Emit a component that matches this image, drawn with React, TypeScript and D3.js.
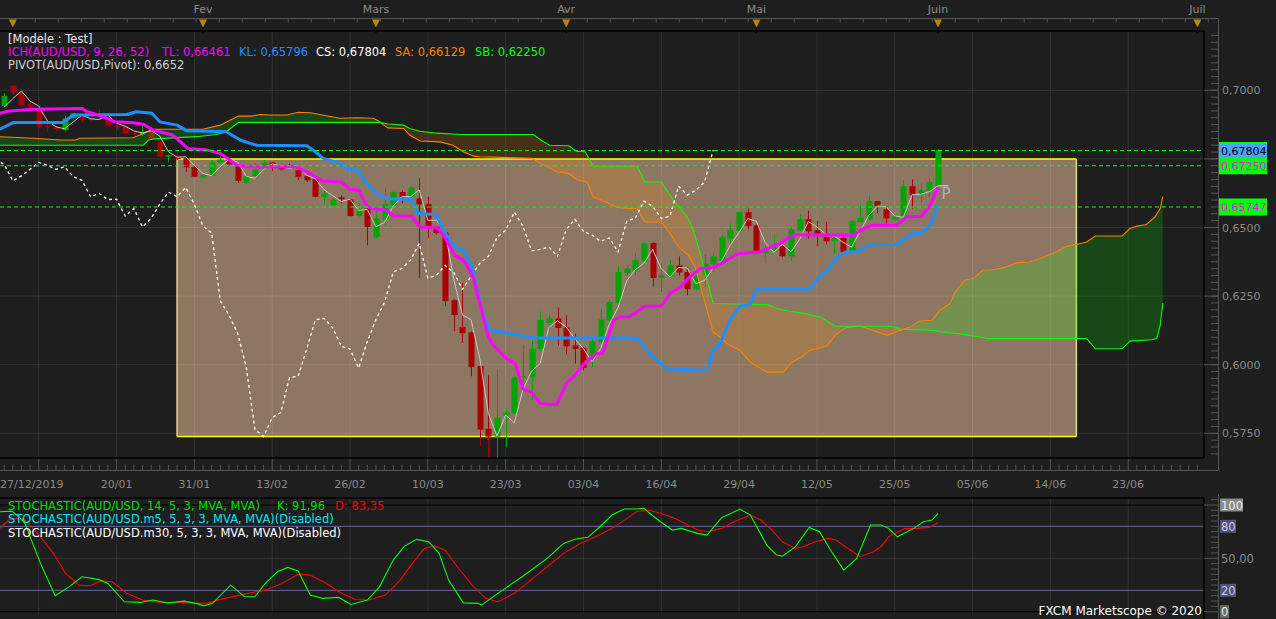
import React from "react";
import * as d3 from "d3";

// ---------- DATA ----------
const opens = [0.6925,0.6944,0.7017,0.6993,0.6950,0.6934,0.6870,0.6865,0.6855,0.6898,0.6903,0.6901,0.6914,0.6898,0.6870,0.6871,0.6847,0.6840,0.6855,0.6812,0.6758,0.6764,0.6752,0.6721,0.6682,0.6688,0.6737,0.6746,0.6724,0.6663,0.6687,0.6715,0.6737,0.6721,0.6727,0.6709,0.6687,0.6679,0.6612,0.6581,0.6610,0.6602,0.6542,0.6569,0.6465,0.6530,0.6581,0.6629,0.6612,0.6606,0.6585,0.6502,0.6482,0.6235,0.6137,0.6118,0.5995,0.5766,0.5738,0.5815,0.5823,0.5955,0.5955,0.6057,0.6152,0.6168,0.6135,0.6070,0.6061,0.6022,0.6082,0.6162,0.6225,0.6334,0.6344,0.6378,0.6443,0.6317,0.6322,0.6362,0.6338,0.6275,0.6326,0.6366,0.6378,0.6460,0.6487,0.6556,0.6508,0.6407,0.6417,0.6432,0.6395,0.6490,0.6530,0.6490,0.6466,0.6451,0.6462,0.6413,0.6520,0.6530,0.6596,0.6566,0.6529,0.6538,0.6651,0.6620,0.6634,0.6652];
const highs = [0.6955,0.6990,0.7018,0.6997,0.6955,0.6937,0.6885,0.6870,0.6906,0.6917,0.6906,0.6905,0.6932,0.6902,0.6885,0.6873,0.6852,0.6876,0.6858,0.6815,0.6766,0.6776,0.6754,0.6723,0.6695,0.6746,0.6761,0.6759,0.6726,0.6690,0.6734,0.6746,0.6739,0.6724,0.6732,0.6712,0.6693,0.6690,0.6636,0.6605,0.6618,0.6605,0.6588,0.6571,0.6563,0.6642,0.6632,0.6636,0.6654,0.6679,0.6612,0.6505,0.6487,0.6240,0.6298,0.6121,0.5998,0.5961,0.5983,0.5839,0.5958,0.6070,0.6088,0.6194,0.6180,0.6208,0.6180,0.6113,0.6065,0.6103,0.6204,0.6237,0.6359,0.6362,0.6405,0.6445,0.6446,0.6369,0.6381,0.6395,0.6356,0.6330,0.6402,0.6405,0.6472,0.6515,0.6558,0.6569,0.6511,0.6435,0.6472,0.6447,0.6500,0.6548,0.6561,0.6524,0.6520,0.6472,0.6465,0.6526,0.6581,0.6614,0.6597,0.6578,0.6546,0.6673,0.6675,0.6663,0.6679,0.6785];
const lows = [0.6915,0.6939,0.6983,0.6939,0.6934,0.6861,0.6849,0.6851,0.6851,0.6895,0.6885,0.6885,0.6891,0.6868,0.6857,0.6840,0.6837,0.6833,0.6820,0.6755,0.6739,0.6747,0.6703,0.6683,0.6680,0.6685,0.6733,0.6728,0.6663,0.6660,0.6685,0.6713,0.6706,0.6708,0.6718,0.6673,0.6666,0.6610,0.6588,0.6578,0.6588,0.6540,0.6540,0.6435,0.6460,0.6508,0.6578,0.6588,0.6610,0.6316,0.6463,0.6475,0.6214,0.6123,0.6079,0.5958,0.5703,0.5520,0.5660,0.5699,0.5820,0.5900,0.5870,0.6050,0.6131,0.6070,0.6038,0.6004,0.5979,0.5991,0.6078,0.6158,0.6220,0.6326,0.6326,0.6375,0.6286,0.6265,0.6318,0.6326,0.6253,0.6270,0.6283,0.6338,0.6375,0.6442,0.6484,0.6493,0.6412,0.6374,0.6415,0.6392,0.6378,0.6487,0.6460,0.6432,0.6439,0.6405,0.6408,0.6410,0.6518,0.6526,0.6553,0.6515,0.6525,0.6535,0.6569,0.6593,0.6612,0.6650];
const closes = [0.6944,0.6980,0.6991,0.6944,0.6940,0.6867,0.6866,0.6858,0.6898,0.6916,0.6897,0.6891,0.6906,0.6871,0.6864,0.6843,0.6843,0.6849,0.6822,0.6758,0.6764,0.6749,0.6719,0.6685,0.6691,0.6737,0.6748,0.6730,0.6670,0.6688,0.6712,0.6737,0.6727,0.6712,0.6721,0.6685,0.6672,0.6612,0.6624,0.6602,0.6603,0.6542,0.6569,0.6502,0.6533,0.6585,0.6629,0.6612,0.6646,0.6584,0.6505,0.6480,0.6232,0.6181,0.6115,0.5991,0.5764,0.5738,0.5807,0.5826,0.5953,0.5958,0.6058,0.6164,0.6169,0.6134,0.6067,0.6057,0.5988,0.6085,0.6165,0.6228,0.6338,0.6351,0.6381,0.6442,0.6316,0.6326,0.6362,0.6336,0.6275,0.6322,0.6369,0.6395,0.6464,0.6490,0.6556,0.6505,0.6415,0.6420,0.6429,0.6395,0.6493,0.6530,0.6486,0.6472,0.6450,0.6462,0.6411,0.6523,0.6535,0.6596,0.6578,0.6533,0.6541,0.6651,0.6618,0.6636,0.6666,0.6782];

// Ichimoku lines: [bar index, price]
const tenkan = [[0.5,0.6916],[1.4,0.6924],[4.3,0.6931],[10,0.6934],[10.6,0.6922],[11.3,0.6916],[13.2,0.6894],[13.8,0.6885],[15.9,0.6882],[17.1,0.6876],[18.2,0.6855],[20.5,0.6837],[21.6,0.6807],[22.2,0.6788],[24.5,0.6782],[26,0.6770],[27.1,0.6746],[27.9,0.6727],[29.4,0.6721],[34.8,0.6721],[36,0.6703],[37,0.6685],[37.7,0.6670],[40,0.6666],[41,0.6639],[42,0.6636],[42.9,0.6581],[43.5,0.6569],[45.2,0.6563],[46,0.6542],[48.1,0.6542],[49.1,0.6502],[51,0.6500],[51.8,0.6472],[52.6,0.6429],[53.1,0.6399],[54.1,0.6381],[54.5,0.6362],[55.3,0.6314],[56,0.6223],[57,0.6101],[57.6,0.6070],[59.1,0.6022],[60.1,0.6004],[61,0.5912],[62,0.5900],[63,0.5858],[64.9,0.5855],[66.1,0.5936],[67,0.5961],[68.2,0.6009],[69.5,0.6040],[70.2,0.6042],[71.5,0.6162],[72.2,0.6174],[73.4,0.6176],[75.1,0.6213],[77,0.6213],[78,0.6259],[79.2,0.6283],[80.3,0.6320],[81.5,0.6350],[83,0.6354],[84.2,0.6374],[85.9,0.6405],[88.4,0.6411],[89.2,0.6423],[90.7,0.6442],[91.9,0.6466],[92.7,0.6474],[99.2,0.6472],[100.4,0.6496],[101.3,0.6508],[104.2,0.6508],[105.4,0.6539],[107.1,0.6541],[108.1,0.6581],[109,0.6646]];
const kijun = [[0.5,0.6858],[2.1,0.6883],[7.8,0.6883],[9,0.6910],[15.2,0.6912],[16.3,0.6922],[18.1,0.6916],[19,0.6885],[21,0.6873],[22.1,0.6853],[26.7,0.6849],[28.3,0.6819],[29.4,0.6807],[30.2,0.6800],[36,0.6798],[37,0.6776],[37.9,0.6752],[39.8,0.6734],[40.7,0.6713],[42,0.6708],[42.9,0.6661],[44.1,0.6624],[45.2,0.6606],[48.1,0.6602],[48.9,0.6551],[51,0.6547],[51.8,0.6490],[53.1,0.6429],[54.1,0.6417],[55.1,0.6356],[56,0.6235],[56.2,0.6198],[57.2,0.6125],[58.7,0.6119],[61.4,0.6103],[62.2,0.6097],[74.2,0.6097],[75.7,0.6040],[77.6,0.5985],[82.3,0.5979],[83,0.6052],[83.8,0.6077],[84.9,0.6162],[86.1,0.6213],[87.3,0.6220],[88,0.6276],[94.2,0.6276],[95.2,0.6320],[96.3,0.6347],[97.3,0.6390],[98.3,0.6411],[99.6,0.6411],[101.3,0.6438],[104.2,0.6438],[106.1,0.6478],[107.1,0.6480],[108.1,0.6508],[109,0.6580]];
const senkouA = [[0.5,0.6831],[2.5,0.6828],[4.4,0.6825],[7.5,0.6819],[9.2,0.6819],[9.8,0.6825],[15.9,0.6827],[16.7,0.6837],[17.5,0.6849],[18.1,0.6858],[24,0.6858],[26,0.6873],[27.1,0.6891],[28.1,0.6906],[29.6,0.6906],[30.6,0.6912],[31.6,0.6910],[33.7,0.6910],[35,0.6920],[36.4,0.6918],[37.5,0.6912],[39.8,0.6898],[41.8,0.6900],[43.7,0.6898],[44.3,0.6888],[44.9,0.6873],[45.4,0.6863],[47.2,0.6861],[47.9,0.6837],[49.1,0.6815],[51.4,0.6812],[52.9,0.6800],[54.1,0.6776],[55.3,0.6760],[56,0.6758],[62,0.6752],[62.8,0.6739],[63.8,0.6721],[64.9,0.6703],[66.3,0.6697],[67.2,0.6675],[68.4,0.6666],[69.1,0.6612],[70.3,0.6597],[71.8,0.6575],[73,0.6569],[74.2,0.6569],[75.1,0.6520],[77,0.6520],[78,0.6478],[79,0.6429],[80.1,0.6399],[80.9,0.6356],[81.5,0.6289],[82.3,0.6198],[83,0.6119],[83.8,0.6101],[84.6,0.6077],[86.1,0.6052],[87.3,0.6009],[89.2,0.5973],[91.1,0.5973],[92.1,0.6009],[93.2,0.6028],[94.2,0.6052],[96.1,0.6067],[97.1,0.6107],[98.3,0.6135],[100,0.6141],[101.1,0.6129],[103.1,0.6107],[104.4,0.6123],[105.8,0.6137],[106.9,0.6159],[108.3,0.6162],[109.2,0.6198],[110.4,0.6223],[111,0.6265],[112.1,0.6308],[113.1,0.6314],[114.2,0.6344],[115.6,0.6347],[116.9,0.6356],[118.1,0.6372],[119.6,0.6374],[120.8,0.6387],[122.3,0.6405],[123.9,0.6432],[125,0.6438],[126.2,0.6447],[127.2,0.6469],[130.3,0.6469],[131.2,0.6496],[132,0.6505],[133.1,0.6511],[134.1,0.6539],[134.7,0.6569],[135,0.6613]];
const senkouB = [[0.5,0.6800],[17.1,0.6800],[17.7,0.6819],[18.3,0.6823],[23.3,0.6831],[25.6,0.6839],[26.7,0.6849],[28.1,0.6883],[44.5,0.6883],[45.4,0.6877],[47.2,0.6873],[47.9,0.6861],[49.1,0.6851],[50.6,0.6845],[53.7,0.6839],[62.2,0.6839],[63.2,0.6816],[64.1,0.6800],[66.3,0.6798],[67.2,0.6778],[68.2,0.6776],[69.1,0.6724],[74.2,0.6724],[75.1,0.6666],[77,0.6666],[78.4,0.6600],[80.1,0.6533],[80.7,0.6490],[81.5,0.6405],[82.3,0.6308],[83,0.6223],[89.2,0.6219],[90.5,0.6204],[91.9,0.6194],[93.4,0.6188],[95.4,0.6174],[97.1,0.6140],[103.5,0.6140],[104.8,0.6129],[108.5,0.6125],[110,0.6117],[111.5,0.6113],[112.7,0.6107],[113.9,0.6101],[114.8,0.6095],[126.2,0.6095],[127.2,0.6058],[130.3,0.6058],[131.2,0.6086],[133.7,0.6091],[134.3,0.6095],[134.7,0.6143],[135,0.6225]];

// Stochastic: [bar index, value]
const stochK = [[0.5,93.7],[1.9,94.3],[2.9,87.5],[3.4,82.8],[5.2,45.3],[6.9,14.9],[8.5,23.3],[10,32.7],[11.9,30.3],[13,26.5],[14.9,9.3],[16.8,8.7],[18.2,10.9],[19.9,8.3],[21.8,9.9],[23.2,7.8],[24.1,5.5],[25.1,7.8],[27.2,24.9],[28.8,14],[30,14],[31.2,26.5],[32.6,37.4],[33.8,41.5],[35,38.1],[36.4,15.6],[37.8,12.5],[39.7,13.4],[41.1,6.8],[43,10.9],[44.4,23.3],[46,48.4],[47.3,61.5],[48.7,67.8],[50.1,65.5],[51.3,54.7],[52.4,29.6],[54.1,8.3],[55.8,7.8],[56.2,6.2],[58.1,17.2],[60.9,32.7],[63.8,50],[65.7,64],[67.1,68.1],[68.5,69.7],[69.9,79.6],[71.3,90.6],[72.7,96.2],[74.1,96.2],[75,96.8],[75.9,90.6],[76.9,84.3],[78.3,76.5],[79.3,78.1],[81.2,73.4],[82.3,71.8],[84,88.4],[84.9,91.5],[86.1,96.2],[87.3,90.6],[89.2,62.4],[90.3,53.1],[91,52.1],[92.5,60.8],[94.1,79],[95.3,74.9],[96.7,56.2],[98.1,39],[99.6,50],[101.2,81.2],[102.4,81.2],[103.3,78.1],[104.3,70.2],[106.2,78.1],[107.3,84.3],[108.3,85.9],[109,92]];
const stochD = [[0.5,78.1],[1.5,85.9],[2.4,87.5],[3.4,86.5],[5.2,70.2],[6.7,54.7],[8.1,35.9],[9.7,24.9],[10.9,24.3],[12.3,29],[13.5,28],[15.2,17.2],[17,10.9],[19.4,8.3],[21.3,8.7],[23.2,7.8],[24.6,8.3],[26.5,12.5],[28.8,16.5],[31.2,20.2],[33.1,26.5],[35,35],[36.4,34.3],[38.3,26.5],[39.7,18.7],[41.6,11.5],[43.2,10.9],[45.1,15.6],[46.8,29.6],[48.2,45.3],[49.6,59.3],[50.8,61.5],[52,57.7],[53.4,42.1],[55.3,23.3],[56.7,12.5],[58.1,9.3],[60,17.2],[61.9,29.6],[63.8,42.1],[65.7,54.7],[67.6,64],[69.4,70.2],[71.3,78.1],[73.2,88.4],[74.1,93.7],[75.5,95.3],[76.9,92.2],[78.3,88.4],[79.7,82.8],[81.2,76.5],[82.3,74.9],[84,78.1],[85.4,84.3],[87.3,90.6],[88.5,85.9],[89.6,78.1],[91,65.5],[92.5,59.3],[93.4,60.8],[94.8,65.5],[96.3,68.7],[97.2,67.1],[98.6,59.3],[100,51.5],[101.5,56.2],[102.4,60.8],[103.3,70.2],[105.2,78.1],[106.6,78.1],[108,79],[109,83.4]];

const bottomLabels = ["27/12/2019","20/01","31/01","13/02","26/02","10/03","23/03","03/04","16/04","29/04","12/05","25/05","05/06","14/06","23/06"];
const bottomLabelStartBar = 5;
const bottomLabelStepBars = 9;
const monthNames = ["", "Fev", "Mars", "Avr", "Mai", "Juin", "Juil"];
const monthStartBars = [2, 24, 44, 66, 88, 109, 139];
const priceGrid = [0.575, 0.6, 0.625, 0.65, 0.675, 0.7];
const priceAxisLabels = [0.575, 0.6, 0.625, 0.65, 0.7];
const markerPrices = [0.67804, 0.6725, 0.65747];
const markerTexts = ["0,67804", "0,67250", "0,65747"];
const boxPrices = [0.5738, 0.6750];
const boxBars = [21, 125];
const pivotValue = 0.6652;
const ichLegend = ["ICH(AUD/USD, 9, 26, 52)", "TL: 0,66461", "KL: 0,65796", "CS: 0,67804", "SA: 0,66129", "SB: 0,62250"];
const stochLegend = ["STOCHASTIC(AUD/USD, 14, 5, 3, MVA, MVA)", "K: 91,96", "D: 83,35"];
const stochLegend2 = "STOCHASTIC(AUD/USD.m5, 5, 3, 3, MVA, MVA)(Disabled)";
const stochLegend3 = "STOCHASTIC(AUD/USD.m30, 5, 3, 3, MVA, MVA)(Disabled)";
const stochLevels = [100, 80, 50, 20, 0];
const stochLevelTexts = ["100", "80", "50,00", "20", "0"];

const FONT = "'DejaVu Sans', Verdana, sans-serif";

export default function App() {
  const W = 1276, H = 619;
  const PR = 1204, PT = 31, PB = 458;
  const AX = 1218;
  const SPT = 498, SPB = 614;

  const x = d3.scaleLinear().domain([0, 139]).range([-4.5, 1197.4]);
  const y = d3.scaleLinear().domain([0.575, 0.7]).range([433.3, 90.3]);
  const ys = d3.scaleLinear().domain([0, 100]).range([611.7, 505]);
  const pLine = d3.line<any>().x((d: any) => x(d[0])).y((d: any) => y(d[1]));
  const sLine = d3.line<any>().x((d: any) => x(d[0])).y((d: any) => ys(d[1]));

  const bars = d3.range(closes.length);
  const chikou = closes.slice(26).map((c, k) => [k, c]);
  const pivots = bars.slice(1).map((i) => [i, (highs[i - 1] + lows[i - 1] + closes[i - 1]) / 3]);
  const pivotExt = [[109, pivotValue], [110.2, pivotValue]];

  const saP = senkouA.map((d) => [x(d[0]), y(d[1])]);
  const sbP = senkouB.map((d) => [x(d[0]), y(d[1])]);
  const pts = (a: number[][]) => a.map((p) => p[0].toFixed(2) + "," + p[1].toFixed(2)).join("L");
  const cloudPath = "M" + pts(saP) + "L" + pts([...sbP].reverse()) + "Z";
  const sbF = sbP[0][0], sbL = sbP[sbP.length - 1][0];
  const aboveClip = "M" + pts(sbP) + `L${sbL},-2000L${sbF},-2000Z`;
  const belowClip = "M" + pts(sbP) + `L${sbL},3000L${sbF},3000Z`;

  const gridBars = bottomLabels.map((_, k) => bottomLabelStartBar + k * bottomLabelStepBars);

  const bx0 = x(boxBars[0]), bx1 = x(boxBars[1]);
  const by0 = y(boxPrices[1]), by1 = y(boxPrices[0]);

  const gridCol = "rgba(255,255,255,0.085)";
  const up = "#00a400", dn = "#aa0000";

  const priceMinor = d3.range(0, 80).map((k) => 0.56 + k * 0.0025).filter((v) => y(v) > PT && y(v) < PB);
  const stochMinor = d3.range(-1, 23).map((k) => k * 5).filter((v) => ys(v) > SPT && ys(v) < SPB);

  const topTicks = d3.range(0, 60).map((k) => 12.2 + k * 23).filter((v) => v < AX);

  const markerFill = ["#4aa3ff", "#00ff00", "#00ff00"];
  const markerText = ["#000000", "#ff00ff", "#ff00ff"];

  const stochBox = (t: string) => {
    if (t === "100") return { bg: "#8a8a8a", fg: "#eeeeee" };
    if (t === "80" || t === "20") return { bg: "#52527e", fg: "#c8c8e6" };
    if (t === "0") return { bg: "#6a6a6a", fg: "#e6e6e6" };
    return null;
  };

  return (
    <svg width={W} height={H} style={{ position: "absolute", left: 0, top: 0, background: "#1e1e1e", fontFamily: FONT }}>
      <defs>
        <clipPath id="plotClip"><rect x={0} y={PT} width={PR} height={PB - PT} /></clipPath>
        <clipPath id="stochClip"><rect x={0} y={SPT} width={PR} height={SPB - SPT} /></clipPath>
        <clipPath id="aboveB"><path d={aboveClip} /></clipPath>
        <clipPath id="belowB"><path d={belowClip} /></clipPath>
      </defs>
      <rect x={0} y={0} width={W} height={H} fill="#1e1e1e" />

      {/* ===== MAIN PLOT ===== */}
      <g clipPath="url(#plotClip)">
        {/* annotation rectangle */}
        <rect x={bx0} y={by0} width={bx1 - bx0} height={by1 - by0} fill="#8e7762" />
        {/* grid */}
        {gridBars.map((b) => (
          <line key={"vg" + b} x1={x(b)} x2={x(b)} y1={PT} y2={PB} stroke={gridCol} strokeWidth={1} />
        ))}
        {priceGrid.map((v) => (
          <line key={"hg" + v} x1={0} x2={PR} y1={y(v)} y2={y(v)} stroke={gridCol} strokeWidth={1} />
        ))}
        <line x1={bx0} x2={bx1} y1={by0} y2={by0} stroke="#ffff00" strokeWidth={1.5} />
        <line x1={bx0} x2={bx1} y1={by1} y2={by1} stroke="#ffff00" strokeWidth={1.5} />
        <line x1={bx0} x2={bx0} y1={by0} y2={by1} stroke="#e6d68a" strokeWidth={1.5} />
        <line x1={bx1} x2={bx1} y1={by0} y2={by1} stroke="#e6d68a" strokeWidth={1.5} />

        {/* candles */}
        {bars.map((i) => {
          const o = opens[i], c = closes[i];
          const col = c >= o ? up : dn;
          const top = y(Math.max(o, c)), bot = y(Math.min(o, c));
          const cx = Math.round(x(i)) + 0.5;
          return (
            <g key={"c" + i}>
              <line x1={cx} x2={cx} y1={y(highs[i])} y2={y(lows[i])} stroke={col} strokeWidth={1} />
              <rect x={cx - 3} y={top} width={6} height={Math.max(1.2, bot - top)} fill={col} />
            </g>
          );
        })}

        {/* cloud */}
        <path d={cloudPath} fill="rgba(0,255,0,0.19)" clipPath="url(#aboveB)" />
        <path d={cloudPath} fill="rgba(255,140,0,0.18)" clipPath="url(#belowB)" />
        <path d={pLine(senkouA as any) || ""} fill="none" stroke="#ff8000" strokeWidth={1.1} />
        <path d={pLine(senkouB as any) || ""} fill="none" stroke="#00ff00" strokeWidth={1.1} />

        {/* chikou */}
        <path d={pLine(chikou as any) || ""} fill="none" stroke="#ffffff" strokeWidth={1.3} strokeDasharray="3,3" />

        {/* pivot */}
        <path d={pLine(pivots as any) || ""} fill="none" stroke="#c8c8c8" strokeWidth={1} />
        <path d={pLine(pivotExt as any) || ""} fill="none" stroke="#c8c8c8" strokeWidth={1.2} />

        {/* kijun, tenkan */}
        <path d={pLine(kijun as any) || ""} fill="none" stroke="#1e8fff" strokeWidth={3} strokeLinejoin="round" />
        <path d={pLine(tenkan as any) || ""} fill="none" stroke="#ff00ff" strokeWidth={3} strokeLinejoin="round" />

        {/* price marker lines */}
        {markerPrices.map((v) => (
          <line key={"ml" + v} x1={0} x2={PR} y1={y(v)} y2={y(v)} stroke="#00ff00" strokeWidth={1} strokeDasharray="4,3" />
        ))}

        <text x={x(109.4)} y={y(pivotValue) + 13} fill="#b0b0b0" fontSize={15} fontFamily={FONT}>P</text>
      </g>

      {/* legend */}
      <text x={8} y={43} fill="#e8e8e8" fontSize={11.5}>[Modele : Test]</text>
      <text x={8} y={56} fill="#ff00ff" fontSize={11.5}>{ichLegend[0]}</text>
      <text x={162} y={56} fill="#ff00ff" fontSize={11.5}>{ichLegend[1]}</text>
      <text x={239} y={56} fill="#1e8fff" fontSize={11.5}>{ichLegend[2]}</text>
      <text x={316} y={56} fill="#ffffff" fontSize={11.5}>{ichLegend[3]}</text>
      <text x={395} y={56} fill="#ff8000" fontSize={11.5}>{ichLegend[4]}</text>
      <text x={475} y={56} fill="#00ff00" fontSize={11.5}>{ichLegend[5]}</text>
      <text x={8} y={69} fill="#cfcfcf" fontSize={11.5}>PIVOT(AUD/USD,Pivot): 0,6652</text>

      {/* main frame */}
      <line x1={0} x2={AX} y1={18.5} y2={18.5} stroke="#555" strokeWidth={1} />
      <line x1={AX + 0.5} x2={AX + 0.5} y1={18.5} y2={470.5} stroke="#555" strokeWidth={1} />
      <line x1={0} x2={AX} y1={470.5} y2={470.5} stroke="#555" strokeWidth={1} />
      <line x1={0} x2={PR} y1={PT} y2={PT} stroke="#000" strokeWidth={1.5} />
      <line x1={0} x2={PR} y1={PB} y2={PB} stroke="#000" strokeWidth={1.5} />
      <line x1={PR} x2={PR} y1={PT} y2={PB} stroke="#000" strokeWidth={1.5} />

      {/* top axis */}
      {topTicks.map((t) => (
        <line key={"tt" + t} x1={t} x2={t} y1={18.5} y2={22} stroke="#555" strokeWidth={1} />
      ))}
      {monthStartBars.map((b, k) => (
        <g key={"m" + b}>
          <text x={x(b)} y={13} fill="#8a8a8a" fontSize={11} textAnchor="middle">{monthNames[k]}</text>
          <path d={`M${x(b) - 4},${19.5}L${x(b) + 4},${19.5}L${x(b)},${27.5}Z`} fill="#b8860b" />
          <line x1={x(b)} x2={x(b)} y1={27} y2={33} stroke="#000" strokeWidth={1} />
        </g>
      ))}

      {/* right price axis */}
      {priceMinor.map((v) => (
        <line key={"pm" + v} x1={AX - 7} x2={AX} y1={y(v)} y2={y(v)} stroke="#555" strokeWidth={1} />
      ))}
      {priceGrid.map((v) => (
        <line key={"pM" + v} x1={PR} x2={AX} y1={y(v)} y2={y(v)} stroke="#555" strokeWidth={1} />
      ))}
      {priceAxisLabels.map((v) => (
        <text key={"pl" + v} x={1222} y={y(v) + 4} fill="#8a8a8a" fontSize={11}>{d3.format(".4f")(v).replace(".", ",")}</text>
      ))}
      {markerPrices.map((v, k) => (
        <g key={"mb" + v}>
          <rect x={1219} y={y(v) - 8.5} width={48} height={17} fill={markerFill[k]} />
          {k === 0 && <rect x={1219} y={y(v) - 8.5} width={48} height={1.8} fill="#00ff00" />}
          <text x={1221} y={y(v) + 4} fill={markerText[k]} fontSize={11}>{markerTexts[k]}</text>
        </g>
      ))}

      {/* bottom axis */}
      {bars.concat(d3.range(110, 140)).map((b) => (
        <line key={"bt" + b} x1={x(b)} x2={x(b)} y1={gridBars.includes(b) ? 459 : 465} y2={470} stroke="#555" strokeWidth={1} />
      ))}
      {bottomLabels.map((t, k) => (
        <text key={"bl" + t} x={k === 0 ? 0 : x(gridBars[k])} y={488} fill="#8a8a8a" fontSize={11} textAnchor={k === 0 ? "start" : "middle"}>{t}</text>
      ))}

      {/* ===== STOCHASTIC PANEL ===== */}
      <g clipPath="url(#stochClip)">
        {gridBars.map((b) => (
          <line key={"svg" + b} x1={x(b)} x2={x(b)} y1={SPT} y2={SPB} stroke={gridCol} strokeWidth={1} />
        ))}
        <line x1={0} x2={PR} y1={ys(50)} y2={ys(50)} stroke={gridCol} strokeWidth={1} />
        <line x1={0} x2={PR} y1={ys(80)} y2={ys(80)} stroke="#64649c" strokeWidth={1} />
        <line x1={0} x2={PR} y1={ys(20)} y2={ys(20)} stroke="#64649c" strokeWidth={1} />
        <line x1={0} x2={PR} y1={ys(100)} y2={ys(100)} stroke="#000" strokeWidth={1.2} />
        <line x1={0} x2={PR} y1={ys(0)} y2={ys(0)} stroke="#000" strokeWidth={1.2} />
        <path d={sLine(stochD as any) || ""} fill="none" stroke="#ff0000" strokeWidth={1.1} />
        <path d={sLine(stochK as any) || ""} fill="none" stroke="#00ff00" strokeWidth={1.1} />
      </g>
      <line x1={0} x2={PR} y1={SPT} y2={SPT} stroke="#000" strokeWidth={1.5} />
      <line x1={PR} x2={PR} y1={SPT} y2={H} stroke="#000" strokeWidth={1.5} />
      <line x1={AX + 0.5} x2={AX + 0.5} y1={SPT - 4} y2={H} stroke="#555" strokeWidth={1} />
      {stochMinor.map((v) => (
        <line key={"sm" + v} x1={v % 50 === 0 ? PR : AX - 7} x2={AX} y1={ys(v)} y2={ys(v)} stroke="#555" strokeWidth={1} />
      ))}
      {stochLevels.map((v, k) => {
        const t = stochLevelTexts[k];
        const st = stochBox(t);
        const w = t.length * 7 + 2;
        return (
          <g key={"sl" + v}>
            {st && <rect x={1220} y={ys(v) - 6.5} width={w} height={13} fill={st.bg} />}
            <text x={1221} y={ys(v) + 4.5} fill={st ? st.fg : "#8a8a8a"} fontSize={11.5}>{t}</text>
          </g>
        );
      })}

      <text x={8} y={510} fill="#00dd00" fontSize={11.5}>{stochLegend[0]}</text>
      <text x={277} y={510} fill="#00dd00" fontSize={11.5}>{stochLegend[1]}</text>
      <text x={335} y={510} fill="#ee0000" fontSize={11.5}>{stochLegend[2]}</text>
      <text x={8} y={523} fill="#00e5ee" fontSize={11.5}>{stochLegend2}</text>
      <text x={8} y={537} fill="#ffffff" fontSize={11.5}>{stochLegend3}</text>

      <text x={1202} y={615} fill="#ffffff" fontSize={12} textAnchor="end">FXCM Marketscope © 2020</text>
    </svg>
  );
}
